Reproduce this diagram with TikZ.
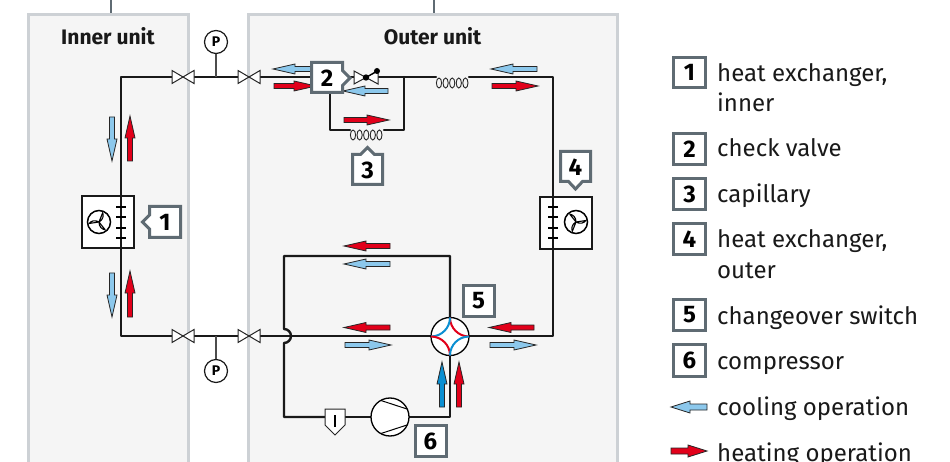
\documentclass[tikz,border=0pt]{standalone}
\usepackage{fontspec}
\setmainfont{Fira Sans}
\usetikzlibrary{arrows.meta}
\definecolor{panel}{HTML}{F5F5F5}
\definecolor{panelb}{HTML}{CDD1D5}
\definecolor{slate}{HTML}{5F6B73}
\definecolor{coolc}{HTML}{8CC8EC}
\definecolor{heatc}{HTML}{E2001A}
\definecolor{strongc}{HTML}{0A8FD2}
\tikzset{
 x=1pt,y=-1pt,
 unitpanel/.style={fill=panel,draw=panelb,line width=3pt},
 stub/.style={draw=slate,line width=2.5pt},
 pipe/.style={draw=black!90,line width=2.4pt,line join=round,line cap=round},
 thinl/.style={draw=black!85,line width=1pt},
 numbox/.style={draw=slate,line width=3pt,fill=white,line join=miter},
 numtxt/.style={font=\fontsize{24}{24}\selectfont\bfseries,text=black,inner sep=0pt},
 unittxt/.style={font=\fontsize{21}{21}\selectfont\bfseries,text=black!90,inner sep=0pt},
 legtxt/.style={font=\fontsize{24}{24}\selectfont,text=black!90,inner sep=0pt,anchor=base west},
 arw/.style={draw=black!85,line width=.8pt,line join=miter},
 pgauge/.style={circle,draw=black!90,line width=1.2pt,fill=white,minimum size=23pt,inner sep=0pt,font=\fontsize{14}{14}\selectfont\bfseries},
}
% horizontal block arrow: colour, tail x, y, tip x
\newcommand{\harrow}[4]{%
 \pgfmathsetmacro{\dirs}{#4>#2?1:-1}%
 \pgfmathsetmacro{\neck}{#4-\dirs*22}%
 \draw[arw,fill=#1] (#2,#3-2.5) -- (\neck,#3-2.5) -- (\neck,#3-5) -- (#4,#3) -- (\neck,#3+5) -- (\neck,#3+2.5) -- (#2,#3+2.5) -- cycle;}
% vertical block arrow: colour, x, tail y, tip y
\newcommand{\varrow}[4]{%
 \pgfmathsetmacro{\dirs}{#4>#3?1:-1}%
 \pgfmathsetmacro{\neck}{#4-\dirs*22}%
 \draw[arw,fill=#1] (#2-2.5,#3) -- (#2-2.5,\neck) -- (#2-5,\neck) -- (#2,#4) -- (#2+5,\neck) -- (#2+2.5,\neck) -- (#2+2.5,#3) -- cycle;}
\newcommand{\valve}[2]{%
 \draw[thinl,fill=white,line join=miter] (#1-11,#2-6.5) -- (#1+11,#2+6.5) -- (#1+11,#2-6.5) -- (#1-11,#2+6.5) -- cycle;}
\newcommand{\coil}[2]{%
 \foreach \k in {0,1,2,3,4} {\draw[draw=black!85,line width=.9pt] (#1+3+\k*6.6,#2) ellipse [x radius=2.6pt,y radius=5pt];}}
% fan: x, y, rotation of the first blade
\newcommand{\fan}[3]{%
 \draw[draw=black,line width=1.5pt] (#1,#2) circle [radius=11.5pt];
 \begin{scope}[shift={(#1,#2)},rotate=#3]
 \foreach \a in {0,120,240} {\draw[draw=black,line width=1.1pt,line join=round,rotate=\a] (0,0) -- (10,-1.5) .. controls (8,1) and (4,2.5) .. (0,0);}
 \end{scope}}
\newcommand{\legarrow}[4]{%
 \pgfmathsetmacro{\dirs}{#4>#2?1:-1}%
 \pgfmathsetmacro{\neck}{#4-\dirs*19}%
 \draw[arw,fill=#1] (#2,#3-3) -- (\neck,#3-3) -- (\neck,#3-6) -- (#4,#3) -- (\neck,#3+6) -- (\neck,#3+3) -- (#2,#3+3) -- cycle;}
\begin{document}
\begin{tikzpicture}
\useasboundingbox (0,0) rectangle (950,462);
\fill[white] (0,0) rectangle (950,462);
% panels
\begin{scope}
\clip (0,0) rectangle (950,462);
\draw[stub] (111,0) -- (111,14);
\draw[stub] (434,0) -- (434,14);
\draw[unitpanel] (28,14.5) rectangle (188,470);
\draw[unitpanel] (248,14.5) rectangle (617,470);
\end{scope}
\node[unittxt] (innerlbl) at (108,36) {Inner unit};
\node[unittxt] (outerlbl) at (432.5,36) {Outer unit};
% pipes
\coordinate (tl) at (121,77);
\coordinate (tr) at (553,77);
\coordinate (bl) at (121,336);
\coordinate (br) at (553,336);
\draw[pipe] (121,196) -- (tl) -- (436,77);
\draw[pipe] (469,77) -- (tr) -- (br) -- (469,336);
\draw[pipe] (121,248) -- (bl) -- (431,336);
\draw[pipe] (330,94) -- (330,130) -- (350,130);
\draw[pipe] (384,130) -- (404,130) -- (404,77);
\draw[pipe] (450,318) -- (450,256) -- (284,256) -- (284,329) arc[start angle=90,end angle=-90,radius=7pt] -- (284,417) -- (325,417);
\draw[pipe] (345,417) -- (371,417);
\draw[pipe] (409,417) -- (450,417) -- (450,356);
% coils
\coil{436}{83}
\coil{350}{135}
% valves and gauges
\valve{183}{77}\valve{249}{77}\valve{183}{336}\valve{249}{336}
\node[pgauge] (gt) at (216,42) {P};
\node[pgauge] (gb) at (216,371) {P};
\draw[draw=black!70,line width=1.2pt] (gt) -- (216,77);
\draw[draw=black!70,line width=1.2pt] (gb) -- (216,336);
% check valve
\draw[thinl,fill=white,line join=miter] (354,71) -- (378,84) -- (378,71) -- (354,84) -- cycle;
\draw[black,line width=1.2pt] (366,77.5) -- (377,71);
\fill[black] (366,77.5) circle [radius=3.2pt];
\fill[black] (377,71) circle [radius=3pt];
% heat exchangers
\draw[draw=black!90,line width=1.2pt,fill=white] (82,196) rectangle (134,248);
\draw[draw=black!90,line width=1.2pt,fill=white] (540,197) rectangle (592,249);
\draw[pipe] (121,190) -- (121,254);
\draw[pipe] (553,190) -- (553,254);
\foreach \y in {207,217,228,238} {
 \draw[draw=black,line width=1.2pt] (116,\y) -- (126,\y);
 \draw[draw=black,line width=1.2pt] (548,\y) -- (558,\y);}
\fan{99}{222}{180}
\fan{576}{222}{0}
% switch
\draw[draw=black,line width=1.3pt,fill=white] (450,336.5) circle [radius=19pt];
\draw[draw=heatc,line width=2pt] (450,317.5) arc[start angle=180,end angle=270,radius=19pt];
\draw[draw=strongc,line width=2pt] (450,317.5) arc[start angle=0,end angle=-90,radius=19pt];
\draw[draw=heatc,line width=2pt] (431,336.5) arc[start angle=90,end angle=0,radius=19pt];
\draw[draw=strongc,line width=2pt] (469,336.5) arc[start angle=90,end angle=180,radius=19pt];
% compressor
\draw[draw=black,line width=1.3pt,fill=white] (390,417) circle [radius=19pt];
\draw[draw=black,line width=1pt] (381,400.5) -- (407,409);
\draw[draw=black,line width=1pt] (381,433.5) -- (407,425);
% filter
\draw[draw=black!85,line width=1pt,fill=white,line join=miter] (325,409) -- (345,409) -- (345,425) -- (335,435) -- (325,425) -- cycle;
\draw[draw=black,line width=1.6pt] (335,415) -- (335,427);
% flow arrows
\varrow{coolc}{112}{117}{161}
\varrow{heatc}{130}{161}{116}
\varrow{coolc}{112}{273}{317}
\varrow{heatc}{130}{317}{271}
\harrow{coolc}{315}{69}{273}
\harrow{heatc}{274}{86}{316}
\harrow{coolc}{388}{91}{343}
\harrow{heatc}{344}{120}{389}
\harrow{coolc}{537}{69}{491}
\harrow{heatc}{492}{86}{538}
\harrow{heatc}{390}{246}{344}
\harrow{coolc}{390}{264}{344}
\harrow{heatc}{390}{327.5}{344}
\harrow{coolc}{345}{345}{391}
\harrow{heatc}{534}{327.5}{489}
\harrow{coolc}{490}{345}{536}
\varrow{strongc}{442}{407}{362}
\varrow{heatc}{459}{407}{362}
% callouts
\draw[numbox] (149.5,206.5) -- (180.5,206.5) -- (180.5,237.5) -- (149.5,237.5) -- (149.5,229) -- (142.5,222) -- (149.5,215) -- cycle;
\node[numtxt] (c1) at (165,222) {1};
\draw[numbox] (311.5,62.5) -- (342.5,62.5) -- (342.5,70.5) -- (350,78) -- (342.5,85.5) -- (342.5,92.5) -- (311.5,92.5) -- cycle;
\node[numtxt] (c2) at (327,78) {2};
\draw[numbox] (352.5,154.5) -- (360.5,154.5) -- (367.5,147.5) -- (374.5,154.5) -- (382.5,154.5) -- (382.5,184.5) -- (352.5,184.5) -- cycle;
\node[numtxt] (c3) at (367.5,170) {3};
\draw[numbox] (560.5,151.5) -- (590.5,151.5) -- (590.5,181.5) -- (582.5,181.5) -- (575.5,189) -- (568.5,181.5) -- (560.5,181.5) -- cycle;
\node[numtxt] (c4) at (575.5,167) {4};
\draw[numbox] (463.5,285.5) rectangle (494,316);
\node[numtxt] (c5) at (478.5,301) {5};
\draw[numbox] (415.5,425.5) rectangle (446,456);
\node[numtxt] (c6) at (430.5,441) {6};
% legend
\draw[numbox] (673.5,57.5) rectangle (705.5,87.5);
\node[numtxt] (l1) at (689.5,72.5) {1};
\draw[numbox] (673.5,133.5) rectangle (705.5,164.5);
\node[numtxt] (l2) at (689.5,149) {2};
\draw[numbox] (673.5,178.5) rectangle (705.5,209.5);
\node[numtxt] (l3) at (689.5,194) {3};
\draw[numbox] (673.5,223.5) rectangle (705.5,254.5);
\node[numtxt] (l4) at (689.5,239) {4};
\draw[numbox] (673.5,299.5) rectangle (705.5,330.5);
\node[numtxt] (l5) at (689.5,315) {5};
\draw[numbox] (673.5,344.5) rectangle (705.5,376.5);
\node[numtxt] (l6) at (689.5,360.5) {6};
\node[legtxt] (t1) at (717,82) {heat exchanger,};
\node[legtxt] (t1b) at (717,112) {inner};
\node[legtxt] (t2) at (717,157) {check valve};
\node[legtxt] (t3) at (717,203) {capillary};
\node[legtxt] (t4) at (717,248) {heat exchanger,};
\node[legtxt] (t4b) at (717,279) {outer};
\node[legtxt] (t5) at (717,324) {changeover switch};
\node[legtxt] (t6) at (717,369) {compressor};
\node[legtxt] (t7) at (717,415) {cooling operation};
\node[legtxt] (t8) at (717,461) {heating operation};
\legarrow{coolc}{707}{407}{671}
\legarrow{heatc}{671}{451}{707}
\end{tikzpicture}
\end{document}
